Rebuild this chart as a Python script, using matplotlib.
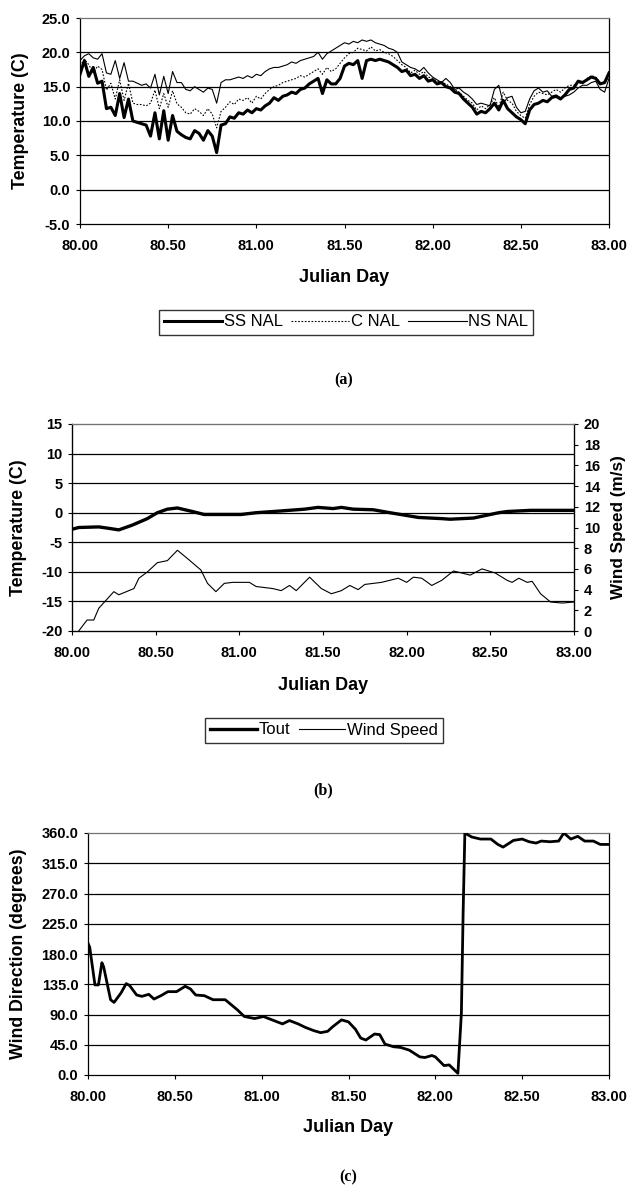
import matplotlib
matplotlib.use("Agg")
import matplotlib.pyplot as plt
from matplotlib.ticker import FormatStrFormatter, MultipleLocator
import numpy as np

plt.rcParams['font.family'] = ['Liberation Sans', 'DejaVu Sans']

# ---------------- data ----------------
# panel (a): pond temperatures, sampled every 0.025 day
day_a = np.round(np.arange(80.0, 83.0001, 0.025), 3)
ss_nal = [16.8, 18.8, 16.5, 17.8, 15.5, 15.8, 11.8, 12.0, 10.8, 14.0, 10.5, 13.2,
          10.0, 9.8, 9.6, 9.4, 7.8, 11.2, 7.4, 11.5, 7.2, 10.8, 8.5, 8.0,
          7.6, 7.4, 8.6, 8.2, 7.2, 8.6, 7.8, 5.4, 9.4, 9.6, 10.6, 10.4,
          11.2, 11.0, 11.6, 11.2, 11.8, 11.6, 12.2, 12.6, 13.4, 13.0, 13.6, 13.8,
          14.2, 14.0, 14.6, 14.8, 15.4, 15.8, 16.2, 14.0, 16.0, 15.4, 15.4, 16.2,
          18.0, 18.4, 18.2, 18.8, 16.2, 18.8, 19.0, 18.8, 19.0, 18.8, 18.6, 18.2,
          17.8, 17.2, 17.4, 16.6, 16.8, 16.2, 16.6, 15.8, 16.0, 15.4, 15.6, 15.0,
          14.8, 14.2, 14.0, 13.2, 12.6, 12.0, 11.0, 11.4, 11.2, 11.8, 12.6, 11.6,
          13.0, 11.8, 11.2, 10.6, 10.2, 9.6, 11.6, 12.4, 12.6, 13.0, 12.8, 13.4,
          13.6, 13.2, 13.8, 14.6, 14.8, 15.8, 15.6, 16.0, 16.4, 16.2, 15.4, 15.6,
          17.0]
c_nal = [18.0, 19.0, 18.2, 17.0, 18.0, 17.5, 14.5, 15.5, 13.2, 16.0, 13.0, 15.5,
         12.6, 12.4, 12.4, 12.2, 12.6, 14.5, 11.8, 14.0, 12.0, 14.4, 12.5, 12.0,
         11.2, 11.0, 11.8, 11.4, 10.8, 11.8, 11.0, 9.0, 11.4, 12.0, 12.8, 12.4,
         13.2, 13.0, 13.4, 12.6, 13.6, 13.2, 14.0, 14.6, 15.0, 15.2, 15.6, 15.8,
         16.0, 16.2, 16.6, 16.4, 16.8, 17.2, 17.6, 16.8, 17.8, 17.2, 17.6, 18.4,
         19.2, 19.8, 20.0, 20.6, 20.4, 20.2, 20.8, 20.2, 20.4, 20.0, 19.8, 19.4,
         18.8, 18.2, 17.8, 17.0, 17.4, 16.8, 17.2, 16.4, 16.2, 15.8, 15.6, 15.4,
         15.0, 14.6, 14.2, 13.6, 13.0, 12.6, 11.6, 12.2, 11.8, 12.4, 13.4, 12.0,
         14.2, 13.0, 12.6, 11.4, 10.8, 10.4, 12.4, 13.6, 14.2, 14.0, 13.8, 14.2,
         14.6, 14.2, 14.8, 15.2, 15.2, 15.6, 15.4, 16.2, 16.6, 16.4, 15.6, 15.4,
         16.6]
ns_nal = [18.8, 19.5, 19.8, 19.2, 19.0, 19.8, 17.0, 16.8, 18.8, 16.2, 18.5, 15.8,
          15.8, 15.5, 15.2, 15.4, 14.8, 16.8, 13.8, 16.5, 14.0, 17.2, 15.6, 15.6,
          14.6, 14.4, 15.0, 14.6, 14.2, 14.8, 14.6, 12.6, 15.6, 16.0, 16.0, 16.2,
          16.4, 16.2, 16.6, 16.3, 16.8, 16.6, 17.2, 17.6, 17.8, 17.8, 18.0, 18.2,
          18.6, 18.4, 18.8, 19.0, 19.2, 19.4, 20.0, 19.0, 19.8, 20.2, 20.6, 21.0,
          21.4, 21.2, 21.6, 21.4, 21.8, 21.6, 21.8, 21.4, 21.2, 21.0, 20.6, 20.4,
          20.0, 18.6, 18.2, 17.8, 17.6, 17.2, 17.8, 17.0, 16.4, 16.0, 15.6, 16.2,
          15.6, 14.6, 14.8, 14.2, 13.8, 13.2, 12.4, 12.6, 12.4, 12.2, 14.6, 15.2,
          12.6, 13.4, 13.6, 12.0, 11.2, 11.4, 13.2, 14.4, 14.8, 14.2, 14.4, 13.6,
          13.8, 13.4, 13.6, 13.8, 14.2, 14.8, 15.2, 15.2, 15.6, 15.8, 14.6, 14.2,
          16.2]

# panel (b): outdoor temperature and wind speed
day_tout = [80.00, 80.04, 80.16, 80.21, 80.28, 80.36, 80.45, 80.51, 80.57, 80.63,
            80.72, 80.79, 81.01, 81.10, 81.25, 81.39, 81.47, 81.56, 81.61, 81.68,
            81.80, 81.90, 82.07, 82.21, 82.26, 82.40, 82.55, 82.60, 82.74, 83.00]
tout = [-2.8, -2.5, -2.4, -2.6, -2.9, -2.1, -1.0, 0.0, 0.6, 0.8,
        0.2, -0.3, -0.3, 0.0, 0.3, 0.6, 0.9, 0.7, 0.9, 0.6,
        0.5, 0.0, -0.8, -1.0, -1.1, -0.9, 0.0, 0.2, 0.4, 0.4]
day_wind = [80.04, 80.09, 80.13, 80.16, 80.25, 80.28, 80.37, 80.40, 80.45, 80.51,
            80.57, 80.63, 80.69, 80.77, 80.81, 80.86, 80.91, 80.96, 81.06, 81.10,
            81.20, 81.25, 81.30, 81.34, 81.42, 81.49, 81.55, 81.61, 81.66, 81.71,
            81.75, 81.85, 81.90, 81.95, 82.00, 82.04, 82.09, 82.15, 82.21, 82.28,
            82.33, 82.38, 82.45, 82.53, 82.60, 82.63, 82.67, 82.72, 82.75, 82.80,
            82.86, 82.93, 83.00]
wind = [0.0, 1.06, 1.06, 2.2, 3.8, 3.5, 4.1, 5.1, 5.7, 6.6,
        6.8, 7.8, 7.0, 5.9, 4.6, 3.8, 4.6, 4.7, 4.7, 4.3,
        4.1, 3.9, 4.4, 3.9, 5.2, 4.1, 3.6, 3.9, 4.4, 4.0,
        4.5, 4.7, 4.9, 5.1, 4.7, 5.2, 5.1, 4.4, 4.9, 5.8,
        5.6, 5.4, 6.0, 5.6, 4.9, 4.7, 5.1, 4.7, 4.8, 3.6,
        2.8, 2.7, 2.8]

# panel (c): wind direction
day_dir = [80.00, 80.01, 80.04, 80.06, 80.08, 80.09, 80.13, 80.15, 80.19, 80.22,
           80.24, 80.28, 80.31, 80.35, 80.38, 80.42, 80.46, 80.51, 80.56, 80.59,
           80.62, 80.67, 80.72, 80.79, 80.86, 80.90, 80.96, 81.01, 81.06, 81.12,
           81.16, 81.21, 81.25, 81.30, 81.34, 81.38, 81.41, 81.46, 81.50, 81.54,
           81.57, 81.60, 81.65, 81.68, 81.71, 81.76, 81.80, 81.85, 81.91, 81.94,
           81.98, 82.00, 82.05, 82.08, 82.10, 82.13, 82.15, 82.16, 82.17, 82.21,
           82.26, 82.32, 82.36, 82.39, 82.45, 82.50, 82.54, 82.58, 82.61, 82.66,
           82.71, 82.74, 82.78, 82.82, 82.86, 82.91, 82.95, 83.00]
wind_dir = [196, 190, 134, 134, 167, 161, 112, 108, 122, 136,
            133, 119, 117, 120, 113, 118, 124, 124, 132, 128,
            119, 118, 112, 112, 97, 87, 84, 87, 82, 76,
            81, 76, 71, 66, 63, 65, 72, 82, 79, 68,
            55, 52, 61, 60, 46, 42, 41, 37, 27, 26,
            29, 27, 14, 15, 10, 2.5, 92, 241, 360, 354,
            351, 351, 343, 339, 349, 351, 347, 345, 348, 347,
            348, 360, 351, 355, 348, 348, 343, 343]

# ---------------- layout helpers ----------------
W, H = 631, 1186
fig = plt.figure(figsize=(W / 100, H / 100), dpi=100)
serif = ['Liberation Serif', 'DejaVu Serif']


def rect(l, r, t, b):
    return [l / W, 1 - b / H, (r - l) / W, (b - t) / H]


def style(ax, grid_ticks):
    for y in grid_ticks:
        ax.axhline(y, color='black', lw=0.9, zorder=1)
    for s in ax.spines.values():
        s.set_color('black')
        s.set_linewidth(0.9)
    ax.spines['top'].set_color('0.45')
    ax.tick_params(direction='out', length=3, width=0.8, labelsize=10.5)
    ax.tick_params(axis='x', pad=8)
    ax.tick_params(axis='y', pad=4)
    for lab in ax.get_xticklabels() + ax.get_yticklabels():
        lab.set_fontweight('bold')
    ax.set_xlim(80, 83)
    ax.xaxis.set_major_locator(MultipleLocator(0.5))
    ax.xaxis.set_major_formatter(FormatStrFormatter('%.2f'))


bold = dict(fontweight='bold')

# ---------------- panel (a) ----------------
ax1 = fig.add_axes(rect(80, 609, 18, 224))
l_ss, = ax1.plot(day_a, ss_nal, color='black', lw=2.2, label='SS NAL', zorder=3)
l_c, = ax1.plot(day_a, c_nal, color='black', lw=0.8, ls=(0, (1.5, 1.5)), label='C NAL', zorder=3)
l_ns, = ax1.plot(day_a, ns_nal, color='black', lw=0.8, label='NS NAL', zorder=3)
ax1.set_ylim(-5, 25)
ax1.yaxis.set_major_locator(MultipleLocator(5))
ax1.yaxis.set_major_formatter(FormatStrFormatter('%.1f'))
style(ax1, np.arange(0, 25, 5))
ax1.set_ylabel('Temperature (C)', fontsize=12.8, **bold)
ax1.yaxis.set_label_coords(-0.096, 0.5)
fig.text(344 / W, 1 - 277 / H, 'Julian Day', ha='center', va='center', fontsize=13, **bold)
fig.legend(handles=[l_ss, l_c, l_ns], loc='center', ncol=3,
           bbox_to_anchor=(346 / W, 1 - 322 / H), frameon=True, fancybox=False,
           edgecolor='black', fontsize=12, handlelength=3.5, handletextpad=0.1,
           columnspacing=0.5, borderpad=0.3)
fig.text(344 / W, 1 - 380 / H, '(a)', ha='center', va='center', fontsize=11.5,
         family=serif, **bold)

# ---------------- panel (b) ----------------
ax2 = fig.add_axes(rect(72, 574, 424, 631))
l_t, = ax2.plot(day_tout, tout, color='black', lw=2.4, label='Tout', zorder=3)
ax2.set_ylim(-20, 15)
ax2.yaxis.set_major_locator(MultipleLocator(5))
ax2.yaxis.set_major_formatter(FormatStrFormatter('%d'))
style(ax2, np.arange(-15, 15, 5))
ax2.set_ylabel('Temperature (C)', fontsize=12.8, **bold)
ax2.yaxis.set_label_coords(-0.09, 0.5)
ax2r = ax2.twinx()
l_w, = ax2r.plot(day_wind, wind, color='black', lw=0.8, label='Wind Speed', zorder=3)
ax2r.set_ylim(0, 20)
ax2r.yaxis.set_major_locator(MultipleLocator(2))
ax2r.tick_params(direction='out', length=3, width=0.8, pad=4, labelsize=10.5)
for lab in ax2r.get_yticklabels():
    lab.set_fontweight('bold')
ax2r.set_ylabel('Wind Speed (m/s)', fontsize=12.3, **bold)
ax2r.yaxis.set_label_coords(1.074, 0.5)
ax2r.spines['top'].set_color('0.45')
fig.text(323 / W, 1 - 685 / H, 'Julian Day', ha='center', va='center', fontsize=13, **bold)
fig.legend(handles=[l_t, l_w], loc='center', ncol=2,
           bbox_to_anchor=(324 / W, 1 - 730 / H), frameon=True, fancybox=False,
           edgecolor='black', fontsize=12, handlelength=2.8, handletextpad=0.1,
           columnspacing=0.5, borderpad=0.3)
fig.text(323 / W, 1 - 790 / H, '(b)', ha='center', va='center', fontsize=11.5,
         family=serif, **bold)

# ---------------- panel (c) ----------------
ax3 = fig.add_axes(rect(88, 609, 833, 1075))
ax3.plot(day_dir, wind_dir, color='black', lw=2.0, zorder=3)
ax3.set_ylim(0, 360)
ax3.yaxis.set_major_locator(MultipleLocator(45))
ax3.yaxis.set_major_formatter(FormatStrFormatter('%.1f'))
style(ax3, np.arange(45, 360, 45))
ax3.set_ylabel('Wind Direction (degrees)', fontsize=12.8, **bold)
ax3.yaxis.set_label_coords(-0.117, 0.5)
fig.text(348 / W, 1 - 1127 / H, 'Julian Day', ha='center', va='center', fontsize=13, **bold)
fig.text(348 / W, 1 - 1177 / H, '(c)', ha='center', va='center', fontsize=11.5,
         family=serif, **bold)

fig.savefig('out.png', dpi=100)
